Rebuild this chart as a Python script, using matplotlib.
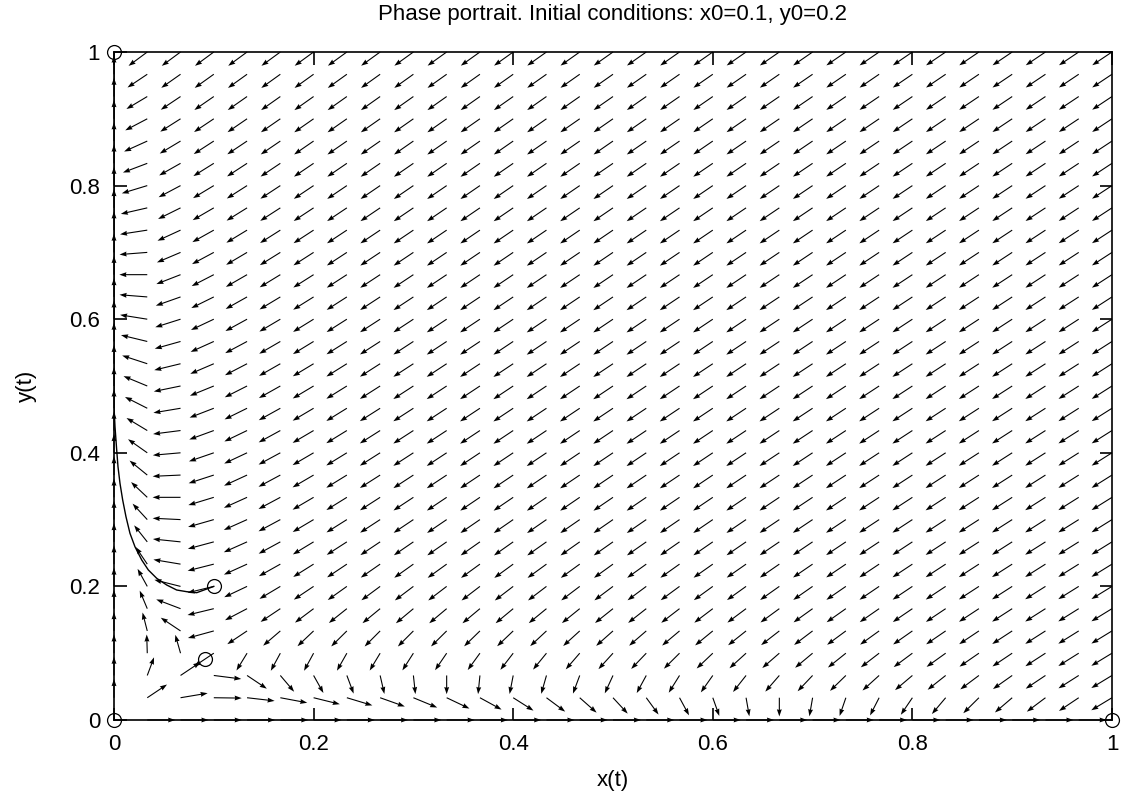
import numpy as np
import matplotlib
matplotlib.use("Agg")
import matplotlib.pyplot as plt

plt.rcParams['font.family'] = ['Liberation Sans', 'DejaVu Sans']

# competition model: dx = x(1 - x - a*y), dy = y(1 - y - b*x)
coef_a = 10.0
coef_b = 10.0
grid_n = 31          # arrows per axis
arrow_len = 0.028    # normalised arrow length (data units)

# trajectory from x0=0.1, y0=0.2
traj_x = [0.100, 0.0829, 0.0728, 0.0628, 0.0528, 0.0428, 0.0344, 0.0278, 0.0210,
          0.0160, 0.0120, 0.0087, 0.0060, 0.0040, 0.0027, 0.0010, 0.0, 0.0]
traj_y = [0.200, 0.1906, 0.1921, 0.1946, 0.2021, 0.2121, 0.2246, 0.2395, 0.2594,
          0.2795, 0.3043, 0.3293, 0.3543, 0.3792, 0.4042, 0.4391, 0.469, 1.0]

# equilibria + initial point (circles)
pts_x = [0.0, 0.0, 1.0, 1 / 11, 0.1]
pts_y = [0.0, 1.0, 0.0, 1 / 11, 0.2]

fig = plt.figure(figsize=(11.23, 7.95), dpi=100)
ax = fig.add_axes([114 / 1123, 1 - 720 / 795, 998 / 1123, 668 / 795])

gx, gy = np.meshgrid(np.linspace(0, 1, grid_n), np.linspace(0, 1, grid_n))
u = gx * (1 - gx - coef_a * gy)
v = gy * (1 - gy - coef_b * gx)
mag = np.hypot(u, v)
mag[mag == 0] = np.nan
u = arrow_len * u / mag
v = arrow_len * v / mag

ax.quiver(gx, gy, u, v, angles='xy', scale_units='xy', scale=1,
          width=0.0011, headwidth=4.5, headlength=6.5, headaxislength=6,
          color='black', clip_on=False, zorder=3)

ax.plot(traj_x, traj_y, color='black', lw=1.0, zorder=4)
ax.plot(pts_x, pts_y, 'o', mfc='none', mec='black', ms=10, mew=0.9,
        clip_on=False, zorder=5)

ax.set_xlim(0, 1)
ax.set_ylim(0, 1)
ticks = [0, 0.2, 0.4, 0.6, 0.8, 1]
tick_labels = ['0', '0.2', '0.4', '0.6', '0.8', '1']
ax.set_xticks(ticks)
ax.set_xticklabels(tick_labels)
ax.set_yticks(ticks)
ax.set_yticklabels(tick_labels)
ax.tick_params(direction='in', length=9, width=1.2, top=True, right=True,
               labelsize=16, pad=10)
for s in ax.spines.values():
    s.set_linewidth(1.2)

ax.set_xlabel('x(t)', fontsize=16, labelpad=11)
ax.set_ylabel('y(t)', fontsize=16, labelpad=23)
ax.set_title('Phase portrait. Initial conditions: x0=0.1, y0=0.2',
             fontsize=16, pad=23)

fig.savefig('out.png', dpi=100)
